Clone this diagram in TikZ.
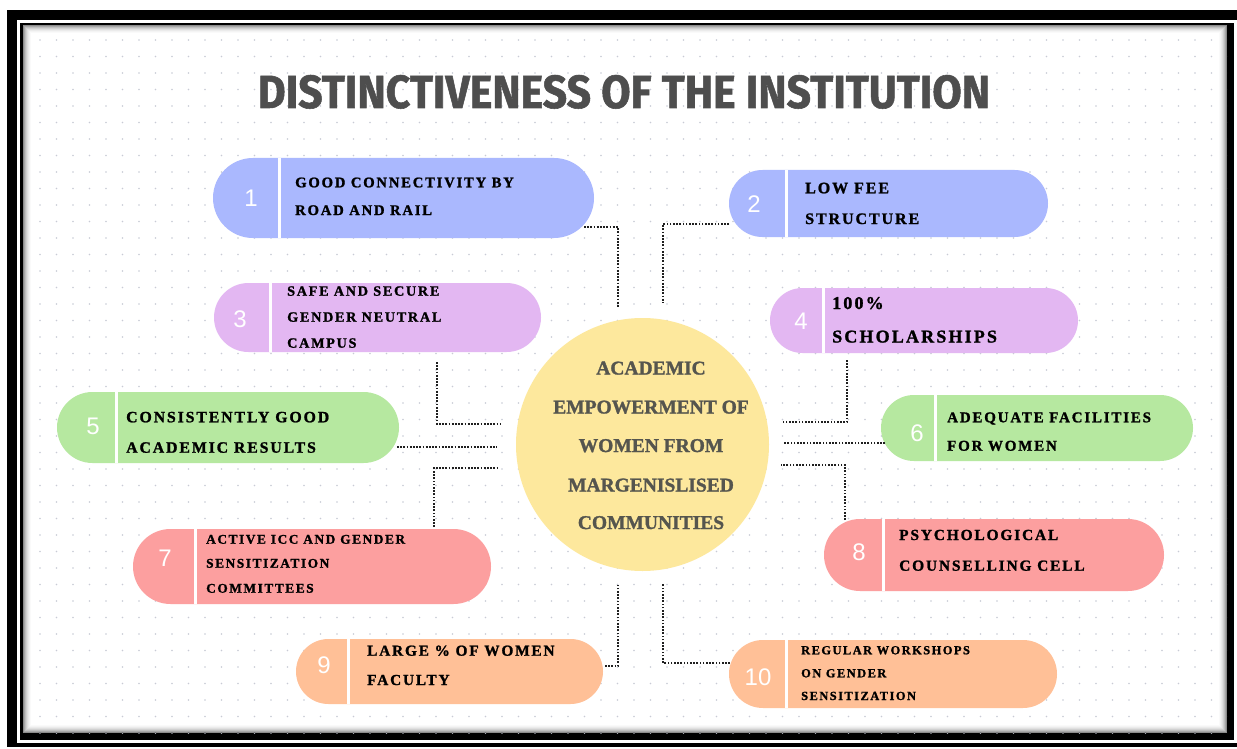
\documentclass[tikz,border=0pt]{standalone}
\usepackage{fontspec}
\setmainfont{Liberation Serif}
\newfontfamily\pillfont{Liberation Serif}[LetterSpace=12, BoldFeatures={FakeBold=1.3}]
\newfontfamily\numfont{Liberation Sans}
\newfontfamily\titlefont{Fira Sans}[BoldFeatures={FakeBold=1.2}]
\newfontfamily\hubfont{Liberation Serif}[BoldFeatures={FakeBold=1.4}]
\usetikzlibrary{calc}
\definecolor{cblue}{HTML}{AAB8FE}
\definecolor{clav}{HTML}{E3B7F2}
\definecolor{cgreen}{HTML}{B6E8A0}
\definecolor{csalmon}{HTML}{FC9F9F}
\definecolor{cpeach}{HTML}{FFC097}
\definecolor{cyellow}{HTML}{FDE89D}
\definecolor{ctitle}{HTML}{4E4E4E}
\definecolor{chub}{HTML}{55554E}
\definecolor{cdot}{HTML}{C8CBD5}
\newcommand\ptsz[1]{\pillfont\bfseries\fontsize{#1}{#1}\selectfont}
\tikzset{
  pill/.style={inner sep=0pt, outer sep=0pt, draw=none},
  num/.style={text=white, font=\numfont\fontsize{24}{24}\selectfont, inner sep=0pt},
  ptxt/.style={anchor=base west, inner sep=0pt, text=black},
  hubtxt/.style={anchor=base, inner sep=0pt, text=chub, font=\hubfont\bfseries\fontsize{19.5}{19.5}\selectfont},
  conn/.style={draw=black!88, line width=2.2pt, dash pattern=on 1.7pt off 1.5pt},
  divider/.style={draw=white, line width=3pt},
}
\begin{document}
\begin{tikzpicture}[x=1pt,y=-1pt]
\useasboundingbox (0,0) rectangle (1237,749);
\fill[white] (0,0) rectangle (1237,749);
% frame
\fill[black] (7,10) rectangle (1237,747);
\fill[white] (17,20) rectangle (1237,743);
\fill[black] (20,23) rectangle (1234,740);
\fill[white] (23,25) rectangle (1227,733);
% dot grid
\begin{scope}
\clip (23,25) rectangle (1227,733);
\foreach \i in {0,...,72} {
  \foreach \j in {0,...,42} {
    \fill[cdot] ({40+16.5*\i},{40+16.5*\j}) circle[radius=0.9pt];
  }
}
\end{scope}
% inner shadow
\foreach \i/\o in {0/0.45,1/0.34,2/0.25,3/0.18,4/0.12,5/0.08,6/0.045,7/0.02}
  \draw[black, opacity=\o, line width=1pt] (23.5+\i,25.5+\i) rectangle (1226.5-\i,732.5-\i);

% title
\node[anchor=base, inner sep=0pt, text=ctitle] (title) at (624,108)
  {\resizebox{732pt}{33pt}{\titlefont\bfseries DISTINCTIVENESS OF THE INSTITUTION}};

% hub
\node[circle, fill=cyellow, minimum size=253pt, inner sep=0pt, draw=none] (hub) at (642.5,444.5) {};
\node[hubtxt] (h1) at (651,374.5) {ACADEMIC};
\node[hubtxt] (h2) at (651,413.5) {EMPOWERMENT OF};
\node[hubtxt] (h3) at (651,452) {WOMEN FROM};
\node[hubtxt] (h4) at (651,491.5) {MARGENISLISED};
\node[hubtxt] (h5) at (651,529) {COMMUNITIES};

% pill 1
\node[pill, fill=cblue, rounded corners=40pt, minimum width=381pt, minimum height=80pt] (p1) at (403.5,198) {};
\draw[divider] (279,158) -- (279,238);
\node[num] (n1) at (251,198) {1};
\node[ptxt, font=\ptsz{14.7}] (t1a) at (295,187.3) {GOOD CONNECTIVITY BY};
\node[ptxt, font=\ptsz{14.7}] (t1b) at (295,215) {ROAD AND RAIL};

% pill 2
\node[pill, fill=cblue, rounded corners=33.5pt, minimum width=319pt, minimum height=67pt] (p2) at (888.5,203.5) {};
\draw[divider] (786,170) -- (786,237);
\node[num] (n2) at (754,204) {2};
\node[ptxt, font=\ptsz{16}] (t2a) at (805,193.3) {LOW FEE};
\node[ptxt, font=\ptsz{16}] (t2b) at (805,224) {STRUCTURE};

% pill 3
\node[pill, fill=clav, rounded corners=34.5pt, minimum width=327pt, minimum height=69pt] (p3) at (377.5,317.5) {};
\draw[divider] (270,283) -- (270,352);
\node[num] (n3) at (240,319) {3};
\node[ptxt, font=\ptsz{14.2}] (t3a) at (287,295.7) {SAFE AND SECURE};
\node[ptxt, font=\ptsz{14.2}] (t3b) at (287,321.7) {GENDER NEUTRAL};
\node[ptxt, font=\ptsz{14.2}] (t3c) at (287,347.7) {CAMPUS};

% pill 4
\node[pill, fill=clav, rounded corners=32.5pt, minimum width=308pt, minimum height=65pt] (p4) at (924,320.5) {};
\draw[divider] (823,288) -- (823,353);
\node[num] (n4) at (801,321) {4};
\node[ptxt, font=\ptsz{18}] (t4a) at (832,309) {100\%};
\node[ptxt, font=\ptsz{18}] (t4b) at (832,342.5) {SCHOLARSHIPS};

% pill 5
\node[pill, fill=cgreen, rounded corners=35.5pt, minimum width=342pt, minimum height=71pt] (p5) at (228,427.5) {};
\draw[divider] (116,392) -- (116,463);
\node[num] (n5) at (93,426) {5};
\node[ptxt, font=\ptsz{15.8}] (t5a) at (126,422.3) {CONSISTENTLY GOOD};
\node[ptxt, font=\ptsz{15.8}] (t5b) at (126,452.7) {ACADEMIC RESULTS};

% pill 6
\node[pill, fill=cgreen, rounded corners=33pt, minimum width=312pt, minimum height=66pt] (p6) at (1037,428) {};
\draw[divider] (935,395) -- (935,461);
\node[num] (n6) at (917,433) {6};
\node[ptxt, font=\ptsz{15}] (t6a) at (947,422.3) {ADEQUATE FACILITIES};
\node[ptxt, font=\ptsz{15}] (t6b) at (947,450.7) {FOR WOMEN};

% pill 7
\node[pill, fill=csalmon, rounded corners=37.5pt, minimum width=358pt, minimum height=75pt] (p7) at (312,566.5) {};
\draw[divider] (195,529) -- (195,604);
\node[num] (n7) at (165,558) {7};
\node[ptxt, font=\ptsz{13.3}] (t7a) at (206,543.7) {ACTIVE ICC AND GENDER};
\node[ptxt, font=\ptsz{13.3}] (t7b) at (206,567.7) {SENSITIZATION};
\node[ptxt, font=\ptsz{13.3}] (t7c) at (206,592.7) {COMMITTEES};

% pill 8
\node[pill, fill=csalmon, rounded corners=36pt, minimum width=340pt, minimum height=72pt] (p8) at (994,555) {};
\draw[divider] (883,519) -- (883,591);
\node[num] (n8) at (859,552) {8};
\node[ptxt, font=\ptsz{15.4}] (t8a) at (899,540) {PSYCHOLOGICAL};
\node[ptxt, font=\ptsz{15.4}] (t8b) at (899,570.7) {COUNSELLING CELL};

% pill 9
\node[pill, fill=cpeach, rounded corners=32.5pt, minimum width=307pt, minimum height=65pt] (p9) at (449.5,671.5) {};
\draw[divider] (348,639) -- (348,704);
\node[num] (n9) at (324,665) {9};
\node[ptxt, font=\ptsz{15.3}] (t9a) at (367,655.7) {LARGE \% OF WOMEN};
\node[ptxt, font=\ptsz{15.3}] (t9b) at (367,685) {FACULTY};

% pill 10
\node[pill, fill=cpeach, rounded corners=34pt, minimum width=328pt, minimum height=68pt] (p10) at (893,674) {};
\draw[divider] (786,640) -- (786,708);
\node[num] (n10) at (758,677) {10};
\node[ptxt, font=\ptsz{12.4}] (t10a) at (801,654.3) {REGULAR WORKSHOPS};
\node[ptxt, font=\ptsz{12.4}] (t10b) at (801,677.3) {ON GENDER};
\node[ptxt, font=\ptsz{12.4}] (t10c) at (801,700) {SENSITIZATION};

% connector end points
\coordinate (k1a) at (584,227);  \coordinate (k1b) at (618,307);
\coordinate (k2a) at (729,224);  \coordinate (k2b) at (663,303);
\coordinate (k3a) at (437,362);  \coordinate (k3b) at (501,424);
\coordinate (k4a) at (847,360);  \coordinate (k4b) at (783,422);
\coordinate (k5a) at (397,447);  \coordinate (k5b) at (497,447);
\coordinate (k6a) at (885,443);  \coordinate (k6b) at (783,443);
\coordinate (k7a) at (434,527);  \coordinate (k7b) at (499,468);
\coordinate (k8a) at (845,520);  \coordinate (k8b) at (781,465);
\coordinate (k9a) at (605,666);  \coordinate (k9b) at (618,585);
\coordinate (k10a) at (730,663); \coordinate (k10b) at (663,583);

\draw[conn] (k1a) -| (k1b);
\draw[conn] (k2a) -| (k2b);
\draw[conn] (k3a) |- (k3b);
\draw[conn] (k4a) |- (k4b);
\draw[conn] (k5a) -- (k5b);
\draw[conn] (k6a) -- (k6b);
\draw[conn] (k7a) |- (k7b);
\draw[conn] (k8a) |- (k8b);
\draw[conn] (k9a) -| (k9b);
\draw[conn] (k10a) -| (k10b);
\end{tikzpicture}
\end{document}
